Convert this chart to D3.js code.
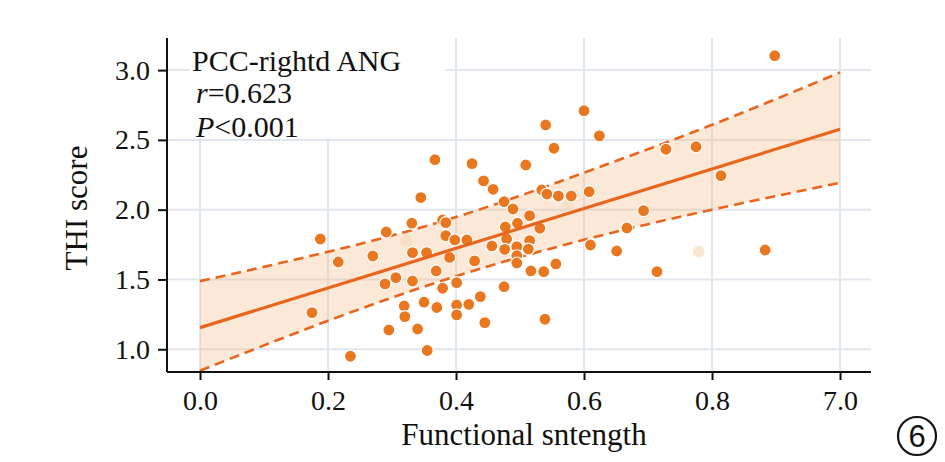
<!DOCTYPE html>
<html>
<head>
<meta charset="utf-8">
<script src="https://cdn.jsdelivr.net/npm/d3@7"></script>
<style>
  html, body { margin: 0; padding: 0; background: #fff; }
  svg { display: block; }
</style>
</head>
<body>
<svg id="chart" width="945" height="462"></svg>
<script>
// ---- data ----
const functionalStrength = [
  0.898, 0.600, 0.540, 0.624, 0.553, 0.728, 0.775, 0.509, 0.814, 0.534,
  0.542, 0.560, 0.580, 0.608, 0.475, 0.489, 0.515, 0.496, 0.531, 0.693,
  0.667, 0.477, 0.479, 0.515, 0.495, 0.513, 0.476, 0.495, 0.495, 0.556,
  0.517, 0.537, 0.610, 0.651, 0.883, 0.714, 0.475, 0.539, 0.367, 0.425,
  0.443, 0.458, 0.345, 0.331, 0.379, 0.384, 0.291, 0.188, 0.216, 0.270,
  0.332, 0.354, 0.384, 0.398, 0.417, 0.390, 0.369, 0.429, 0.456, 0.289,
  0.306, 0.332, 0.379, 0.401, 0.319, 0.350, 0.370, 0.401, 0.420, 0.438,
  0.320, 0.401, 0.445, 0.175, 0.295, 0.340, 0.355, 0.235
];
const thiScore = [
  3.103, 2.709, 2.607, 2.529, 2.440, 2.433, 2.451, 2.320, 2.244, 2.141,
  2.112, 2.098, 2.098, 2.129, 2.057, 2.005, 1.957, 1.903, 1.867, 1.993,
  1.869, 1.876, 1.790, 1.778, 1.735, 1.718, 1.716, 1.670, 1.618, 1.611,
  1.561, 1.556, 1.747, 1.704, 1.711, 1.556, 1.448, 1.215, 2.358, 2.330,
  2.206, 2.146, 2.087, 1.903, 1.926, 1.907, 1.840, 1.790, 1.625, 1.668,
  1.692, 1.692, 1.814, 1.783, 1.783, 1.658, 1.561, 1.633, 1.740, 1.468,
  1.513, 1.489, 1.437, 1.477, 1.310, 1.337, 1.299, 1.317, 1.322, 1.377,
  1.234, 1.246, 1.191, 1.262, 1.138, 1.145, 0.991, 0.950
];
// faint (washed-out) points visible in the reference
const fadedStrength = [0.322, 0.575, 0.779];
const fadedScore    = [1.776, 2.021, 1.699];

// regression line and confidence band read at the x tick positions
const fitX     = [0.0, 0.2, 0.4, 0.6, 0.8, 1.0];
const fitY     = [1.155, 1.439, 1.723, 2.008, 2.292, 2.576];
const ciUpper  = [1.488, 1.698, 1.947, 2.265, 2.608, 2.983];
const ciLower  = [0.846, 1.204, 1.523, 1.784, 2.000, 2.193];

const xTickValues = [0.0, 0.2, 0.4, 0.6, 0.8, 1.0];
const xTickLabels = ["0.0", "0.2", "0.4", "0.6", "0.8", "7.0"];
const yTickValues = [1.0, 1.5, 2.0, 2.5, 3.0];
const yTickLabels = ["1.0", "1.5", "2.0", "2.5", "3.0"];

const titleLine = "PCC-rightd ANG";
const rValue = "=0.623";
const pValue = "<0.001";
const xTitle = "Functional sntength";
const yTitle = "THI score";
const panelLabel = "6";

// ---- drawing ----
(function draw() {
const svg = d3.select("#chart");
const pL = 167, pR = 871, pT = 38, pB = 372;

const x = d3.scaleLinear().domain([-0.0516, 1.0484]).range([pL, pR]);
const y = d3.scaleLinear().domain([0.837, 3.230]).range([pB, pT]);

const serif = "'Liberation Serif', 'Times New Roman', serif";
const orange = "#e8651d";

// grid
const grid = svg.append("g");
grid.selectAll("line.v").data(xTickValues).join("line").attr("class", "v")
  .attr("x1", d => x(d)).attr("x2", d => x(d))
  .attr("y1", pT).attr("y2", pB)
  .attr("stroke", "#e1e6ed").attr("stroke-width", 2);
grid.selectAll("line.h").data(yTickValues).join("line").attr("class", "h")
  .attr("x1", pL).attr("x2", pR)
  .attr("y1", d => y(d)).attr("y2", d => y(d))
  .attr("stroke", "#e1e6ed").attr("stroke-width", 2);

// confidence band
const bandData = fitX.map((d, i) => ({ x: d, lo: ciLower[i], hi: ciUpper[i], f: fitY[i] }));
const curve = d3.curveNatural;
svg.append("path").datum(bandData)
  .attr("d", d3.area().x(d => x(d.x)).y0(d => y(d.lo)).y1(d => y(d.hi)).curve(curve))
  .attr("fill", "#f4b47a").attr("fill-opacity", 0.3);

// white label box covering the grid
svg.append("rect").attr("x", 190).attr("y", pT).attr("width", 255).attr("height", 100)
  .attr("fill", "#fff");

// points
const pts = functionalStrength.map((d, i) => ({ x: d, y: thiScore[i] }));
const faded = fadedStrength.map((d, i) => ({ x: d, y: fadedScore[i] }));

svg.append("g").selectAll("circle").data(faded).join("circle")
  .attr("cx", d => x(d.x)).attr("cy", d => y(d.y)).attr("r", 6)
  .attr("fill", "#f6dcc0").attr("fill-opacity", 0.7);

// CI dashed lines
[ciUpper, ciLower].forEach(arr => {
  svg.append("path").datum(fitX.map((d, i) => ({ x: d, v: arr[i] })))
    .attr("d", d3.line().x(d => x(d.x)).y(d => y(d.v)).curve(curve))
    .attr("fill", "none").attr("stroke", orange).attr("stroke-width", 2.6)
    .attr("stroke-dasharray", "10,6");
});

svg.append("g").selectAll("circle").data(pts).join("circle")
  .attr("cx", d => x(d.x)).attr("cy", d => y(d.y)).attr("r", 6)
  .attr("fill", "#e8771f").attr("stroke", "#fff").attr("stroke-width", 1.2);

// fit line
svg.append("path").datum(bandData)
  .attr("d", d3.line().x(d => x(d.x)).y(d => y(d.f)))
  .attr("fill", "none").attr("stroke", orange).attr("stroke-width", 3.2);

// axes
const xAxis = d3.axisBottom(x).tickValues(xTickValues)
  .tickFormat((d, i) => xTickLabels[i]).tickSize(8).tickPadding(10).tickSizeOuter(0);
const yAxis = d3.axisLeft(y).tickValues(yTickValues)
  .tickFormat((d, i) => yTickLabels[i]).tickSize(9).tickPadding(8).tickSizeOuter(0);

const gx = svg.append("g").attr("transform", `translate(0,${pB})`).call(xAxis);
const gy = svg.append("g").attr("transform", `translate(${pL},0)`).call(yAxis);
gx.select(".domain").attr("d", `M${pL},0H${pR}`);
gy.select(".domain").attr("d", `M0,${pT}V${pB}`);
[gx, gy].forEach(g => {
  g.select(".domain").attr("stroke", "#111").attr("stroke-width", 2);
  g.selectAll(".tick line").attr("stroke", "#111").attr("stroke-width", 2);
  g.selectAll(".tick text").attr("font-family", serif).attr("font-size", 28).attr("fill", "#111");
});

// annotation text
svg.append("text").attr("x", 192).attr("y", 71)
  .attr("font-family", serif).attr("font-size", 30).attr("fill", "#111").text(titleLine);
const t2 = svg.append("text").attr("x", 196).attr("y", 103)
  .attr("font-family", serif).attr("font-size", 30).attr("fill", "#111");
t2.append("tspan").attr("font-style", "italic").text("r");
t2.append("tspan").text(rValue);
const t3 = svg.append("text").attr("x", 196).attr("y", 137)
  .attr("font-family", serif).attr("font-size", 30).attr("fill", "#111");
t3.append("tspan").attr("font-style", "italic").text("P");
t3.append("tspan").text(pValue);

// axis titles
svg.append("text").attr("x", 524).attr("y", 445).attr("text-anchor", "middle")
  .attr("font-family", serif).attr("font-size", 31).attr("fill", "#111").text(xTitle);
svg.append("text").attr("transform", "translate(87,208) rotate(-90)").attr("text-anchor", "middle")
  .attr("font-family", serif).attr("font-size", 31).attr("fill", "#111").text(yTitle);

// circled panel number
svg.append("circle").attr("cx", 917).attr("cy", 436).attr("r", 19)
  .attr("fill", "none").attr("stroke", "#111").attr("stroke-width", 2.2);
svg.append("text").attr("x", 917).attr("y", 447).attr("text-anchor", "middle")
  .attr("font-family", "'Liberation Sans', Arial, sans-serif").attr("font-size", 31)
  .attr("fill", "#111").text(panelLabel);
})();
</script>
</body>
</html>
